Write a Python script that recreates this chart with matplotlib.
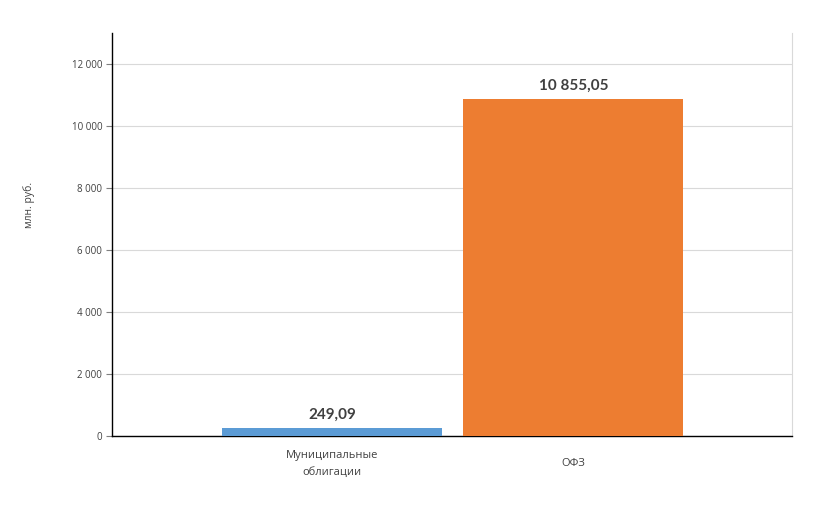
import matplotlib
matplotlib.use("Agg")
import matplotlib.pyplot as plt
from matplotlib.ticker import FuncFormatter

categories = ["Муниципальные\nоблигации", "ОФЗ"]
values = [249.09, 10855.05]
value_labels = ["249,09", "10 855,05"]
colors = ["#5B9BD5", "#ED7D31"]
yticks = [0, 2000, 4000, 6000, 8000, 10000, 12000]

plt.rcParams['font.family'] = ['Open Sans', 'DejaVu Sans']

fig = plt.figure(figsize=(8.24, 5.21), dpi=100)
ax = fig.add_axes([112/824, 1-436/521, 680/824, (436-33)/521])

x = list(range(len(categories)))
bars = ax.bar(x, values, width=0.911, color=colors, zorder=3)
ax.set_xlim(-0.911, 1.905)
ax.set_ylim(0, 13000)
ax.set_yticks(yticks)
ax.yaxis.set_major_formatter(FuncFormatter(lambda v, p: f"{int(v):,}".replace(",", " ")))
ax.tick_params(axis='y', labelsize=7, length=4, width=0.8, color='#7f7f7f', labelcolor='#404040', pad=3)
ax.set_xticks(x)
ax.set_xticklabels(categories, fontsize=8, color='#404040', linespacing=1.75, va='center')
ax.tick_params(axis='x', length=0, pad=20)
ax.grid(axis='y', color='#d9d9d9', linewidth=0.8, zorder=0)
ax.spines['top'].set_visible(False)
ax.spines['right'].set_color('#d9d9d9')
ax.spines['left'].set_color('black')
ax.spines['bottom'].set_color('black')
ax.spines['left'].set_linewidth(1.0)
ax.spines['bottom'].set_linewidth(1.0)

for b, lbl in zip(bars, value_labels):
    ax.annotate(lbl, (b.get_x() + b.get_width()/2, b.get_height()),
                xytext=(0, 5), textcoords='offset points', ha='center', va='bottom',
                fontsize=11, fontweight='bold', color='#404040', family=['Lato', 'DejaVu Sans'])

fig.text(29/824, 1-205/521, "млн. руб.", rotation=90, ha='center', va='center', fontsize=7.5, color='#404040')

fig.savefig("out.png", dpi=100)
